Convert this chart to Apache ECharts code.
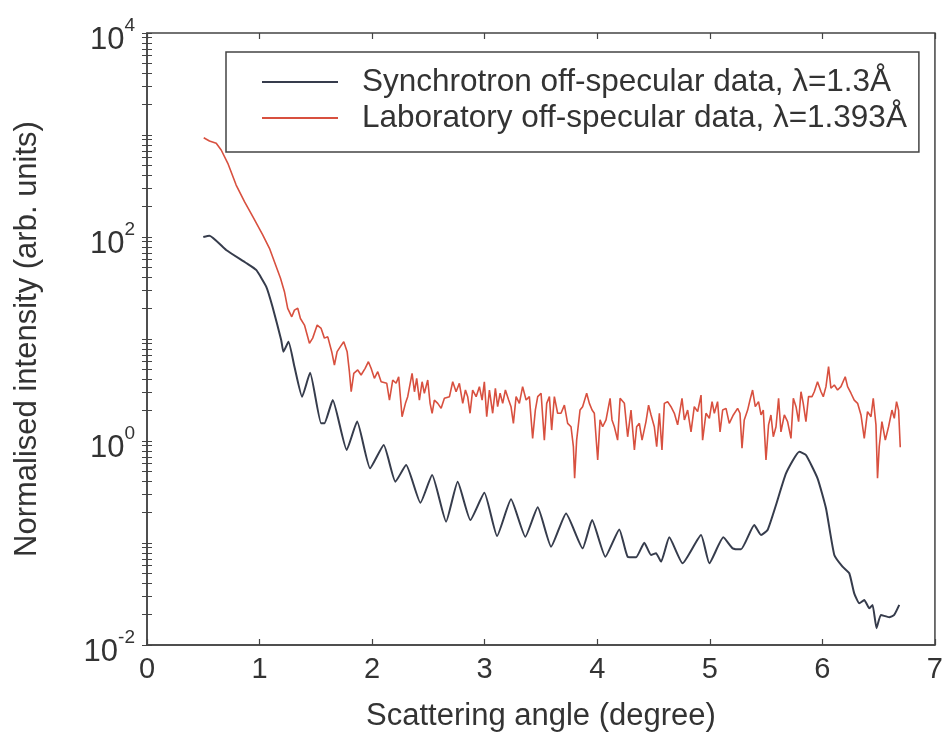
<!DOCTYPE html>
<html>
<head>
<meta charset="utf-8">
<script src="https://cdn.jsdelivr.net/npm/echarts@6/dist/echarts.min.js"></script>
<style>html,body{margin:0;padding:0;background:#fff;}#c{width:946px;height:753px;}</style>
</head>
<body>
<div id="c"></div>
<script>
// ---- Data ----
const seriesNames = ['Synchrotron off-specular data, \u03bb=1.3\u00c5', 'Laboratory off-specular data, \u03bb=1.393\u00c5'];

const synX = [0.50,0.555,0.703,0.881,0.970,1.059,1.115,1.192,1.212,1.257,1.31,1.378,1.449,1.547,1.576,1.650,1.774,1.867,1.982,2.103,2.207,2.302,2.429,2.533,2.657,2.760,2.873,2.997,3.110,3.234,3.361,3.471,3.590,3.723,3.870,3.954,4.072,4.196,4.270,4.345,4.418,4.478,4.522,4.567,4.640,4.758,4.922,4.996,5.120,5.203,5.277,5.395,5.455,5.513,5.588,5.677,5.795,5.854,5.957,6.032,6.106,6.179,6.239,6.283,6.328,6.372,6.417,6.446,6.481,6.520,6.594,6.638,6.683];
const synY = [100,103,74.6,55.6,47.5,32.6,20.7,9.8,7.5,9.4,5.35,2.72,4.67,1.49,1.49,2.52,0.816,1.55,0.54,0.914,0.399,0.581,0.248,0.464,0.162,0.399,0.168,0.311,0.117,0.268,0.115,0.224,0.092,0.195,0.0887,0.168,0.0734,0.136,0.0734,0.0724,0.1007,0.0763,0.0793,0.0656,0.1137,0.0632,0.1198,0.0632,0.1137,0.0887,0.0867,0.150,0.1198,0.134,0.236,0.482,0.785,0.729,0.431,0.219,0.0763,0.0586,0.0505,0.0321,0.0256,0.0276,0.0229,0.0247,0.0146,0.0197,0.0187,0.0197,0.0247];

const labX = [0.504,0.555,0.615,0.659,0.718,0.792,0.866,0.940,1.028,1.088,1.132,1.186,1.221,1.250,1.286,1.310,1.339,1.363,1.399,1.443,1.472,1.512,1.547,1.576,1.606,1.641,1.665,1.689,1.718,1.748,1.778,1.798,1.814,1.837,1.872,1.902,1.938,1.967,1.991,2.020,2.050,2.080,
  2.130,2.154,2.183,2.213,2.236,2.266,2.296,2.316,2.355,2.376,2.396,2.420,2.444,2.464,2.494,2.515,2.533,2.553,2.583,2.613,2.642,2.687,2.716,2.746,2.775,2.805,2.829,2.849,2.870,2.893,2.924,2.953,2.977,2.997,3.018,3.042,3.071,3.095,3.115,3.137,3.160,3.184,3.213,3.234,3.255,3.279,3.308,3.337,3.368,3.397,3.426,3.450,3.471,3.501,3.530,3.551,3.575,3.595,3.619,3.648,
  3.678,3.708,3.737,3.767,3.788,3.799,3.817,3.847,3.870,3.906,3.930,3.954,3.974,4.004,4.025,4.048,4.078,4.114,4.131,4.152,4.181,4.203,4.241,4.270,4.300,4.330,4.350,4.374,4.398,4.433,4.456,4.478,4.507,4.528,4.552,4.575,4.596,4.625,4.655,4.685,4.714,4.753,4.774,4.803,4.833,4.862,4.892,4.922,4.936,4.966,4.996,5.020,5.040,5.069,5.091,5.114,5.144,5.173,
  5.209,5.247,5.268,5.286,5.306,5.336,5.357,5.380,5.404,5.433,5.455,5.475,5.499,5.522,5.543,5.564,5.588,5.611,5.632,5.662,5.691,5.721,5.742,5.766,5.789,5.810,5.830,5.854,5.877,5.908,5.928,5.957,5.988,6.008,6.032,6.055,6.076,6.106,6.135,6.165,6.203,6.224,6.254,6.283,6.313,6.343,6.372,6.401,6.432,6.452,6.476,6.490,6.505,6.529,6.559,6.588,6.618,6.639,6.659,6.677,6.692];
const labY = [941,873,829,713,528,323,222,158,105,77.5,57.3,39.4,29.1,20.0,16.5,19.2,20.0,15.9,13.7,9.07,10.2,13.7,12.7,10.2,10.5,7.51,5.56,7.51,8.41,9.41,7.51,4.78,3.04,4.61,4.97,4.44,5.16,5.99,5.16,4.12,4.78,3.81,
  3.68,2.52,3.96,3.68,4.27,1.73,2.34,2.72,4.61,3.04,4.12,2.52,3.81,2.94,3.96,2.34,1.87,2.52,2.34,2.09,2.62,2.72,3.81,3.04,3.68,2.34,3.16,2.72,1.87,3.16,2.72,3.41,2.52,3.81,1.73,3.16,1.87,3.29,2.17,2.94,2.34,3.16,2.52,2.17,1.49,2.72,2.34,3.41,2.52,2.72,1.06,2.01,2.72,2.94,1.02,2.34,2.72,1.28,2.72,1.87,
  1.87,2.25,1.49,1.38,0.879,0.431,1.02,2.01,2.17,2.94,2.34,2.01,1.87,0.651,1.61,1.38,1.61,2.62,1.61,1.38,1.02,2.62,2.34,1.10,2.01,0.816,1.38,1.49,1.02,1.55,2.25,1.80,1.38,0.879,1.87,0.816,2.34,2.43,2.17,1.87,1.44,2.62,1.61,2.01,1.23,2.17,1.94,2.82,1.02,1.87,1.67,2.43,1.87,2.43,1.23,2.01,2.09,1.49,
  1.80,2.09,1.87,0.848,1.61,2.01,2.52,3.16,2.17,2.43,1.80,2.01,0.651,1.44,1.80,1.10,1.38,2.62,1.23,1.80,1.55,1.06,2.62,2.17,1.55,3.04,2.34,1.55,2.72,2.72,3.04,3.81,3.04,2.72,3.41,5.35,3.29,3.54,3.16,3.41,4.27,3.41,2.94,2.52,2.34,1.80,1.06,1.94,1.73,2.62,1.44,0.431,0.879,1.55,1.02,1.38,2.01,1.67,2.43,2.01,0.868];

const xTicks = [0,1,2,3,4,5,6,7];
const yLabelValues = [0.01, 1, 100, 10000];
const yMajorTicks = [0.01, 0.1, 1, 10, 100, 1000, 10000];
const yMinorMultipliers = [2,3,4,5,6,7,8,9];

// ---- Build ----
const FONT = 'Liberation Sans';
const TXT = '#333';
const AX = '#444';
const yAllTicks = yMajorTicks.slice();
for (let k = 0; k < yMajorTicks.length - 1; k++) {
  yMinorMultipliers.forEach(m => yAllTicks.push(+(yMajorTicks[k] * m).toPrecision(3)));
}
yAllTicks.sort((a, b) => a - b);
const zip = (xs, ys) => xs.map((x, i) => [x, ys[i]]);

const chart = echarts.init(document.getElementById('c'), null, {renderer: 'canvas'});

chart.setOption({
  backgroundColor: '#fff',
  animation: false,
  grid: {left: 147, right: 10, top: 33, bottom: 108, show: true, borderColor: AX, borderWidth: 1.5, backgroundColor: 'transparent'},
  legend: {
    left: 226, top: 52, orient: 'vertical',
    backgroundColor: '#fff', borderColor: AX, borderWidth: 1.5,
    padding: [14, 12, 18, 36], itemGap: 4, itemWidth: 76, itemHeight: 2, icon: 'rect',
    textStyle: {fontFamily: FONT, fontSize: 31.5, color: TXT, padding: [0, 0, 0, 19]},
    data: seriesNames
  },
  xAxis: [{
    type: 'value', min: 0, max: 7, interval: 1,
    name: 'Scattering angle (degree)', nameLocation: 'middle', nameGap: 56,
    nameTextStyle: {fontFamily: FONT, fontSize: 31, color: TXT},
    axisLine: {show: true, onZero: false, lineStyle: {color: AX, width: 1.5}},
    axisTick: {show: true, inside: true, length: 6, lineStyle: {color: AX, width: 1.2}},
    axisLabel: {fontFamily: FONT, fontSize: 29, color: TXT, margin: 10, customValues: xTicks},
    splitLine: {show: false}
  }, {
    type: 'value', min: 0, max: 7, interval: 1, position: 'top',
    axisLine: {show: false}, axisLabel: {show: false}, splitLine: {show: false},
    axisTick: {show: true, inside: true, length: 6, lineStyle: {color: AX, width: 1.2}}
  }],
  yAxis: [{
    type: 'log', logBase: 10, min: 0.01, max: 10000, position: 'left',
    name: 'Normalised intensity (arb. units)', nameLocation: 'middle', nameGap: 104,
    nameTextStyle: {fontFamily: FONT, fontSize: 31, color: TXT},
    axisLine: {show: true, onZero: false, lineStyle: {color: AX, width: 1.5}},
    splitLine: {show: false},
    axisTick: {show: true, inside: true, length: 5, customValues: yAllTicks, lineStyle: {color: AX, width: 1}},
    axisLabel: {
      show: true, margin: 12, customValues: yLabelValues, padding: [6, 0, 0, 0],
      formatter: v => '{b|10}{s|' + Math.round(Math.log10(v)) + '}',
      rich: {
        b: {fontFamily: FONT, fontSize: 31, color: TXT, lineHeight: 40, verticalAlign: 'bottom'},
        s: {fontFamily: FONT, fontSize: 19, color: TXT, lineHeight: 22, verticalAlign: 'top'}
      }
    }
  }, {
    type: 'log', logBase: 10, min: 0.01, max: 10000, position: 'right',
    axisLine: {show: false}, splitLine: {show: false}, axisLabel: {show: false},
    axisTick: {show: true, inside: true, length: 5, customValues: yAllTicks, lineStyle: {color: AX, width: 1}}
  }],
  series: [
    {
      name: seriesNames[0], type: 'line', xAxisIndex: 0, yAxisIndex: 0,
      data: zip(synX, synY), symbol: 'none', smooth: 0.15,
      lineStyle: {color: '#363c4c', width: 2}, itemStyle: {color: '#363c4c'}, z: 3
    },
    {
      name: seriesNames[1], type: 'line', xAxisIndex: 0, yAxisIndex: 0,
      data: zip(labX, labY), symbol: 'none',
      lineStyle: {color: '#d8503f', width: 1.6}, itemStyle: {color: '#d8503f'}, z: 2
    }
  ]
});
</script>
</body>
</html>
